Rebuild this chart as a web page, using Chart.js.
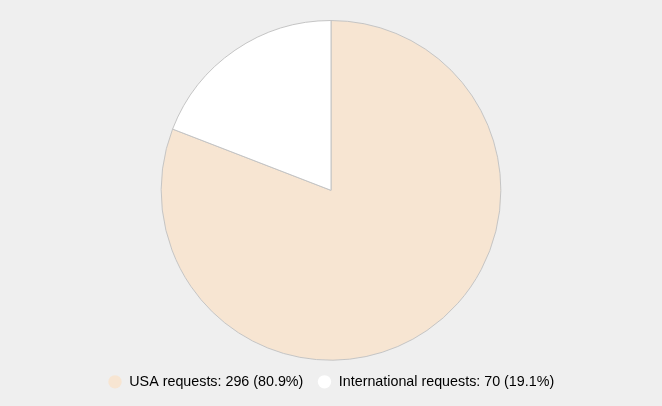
<!DOCTYPE html>
<html>
<head>
<meta charset="utf-8">
<script src="https://cdn.jsdelivr.net/npm/chart.js@4"></script>
<style>
    html, body { margin: 0; padding: 0; background: #efefef; }
    #wrap { width: 662px; height: 406px; }
</style>
</head>
<body>
<div id="wrap"><canvas id="pieChart"></canvas></div>
<script>
// --- Daten ---
const categories = ["USA requests", "International requests"];
const requestCounts = [296, 70];
const sliceColors = ["#f7e5d2", "#ffffff"];

const total = requestCounts.reduce((a, b) => a + b, 0);

function labelText(i) {
    const pct = (requestCounts[i] / total * 100).toFixed(1);
    return `${categories[i]}: ${requestCounts[i]} (${pct}%)`;
}

const ctx = document.getElementById("pieChart").getContext("2d");
const chart = new Chart(ctx, {
    type: "pie",
    data: {
        labels: categories,
        datasets: [{
            data: requestCounts,
            backgroundColor: sliceColors,
            borderColor: "#c4c4c4",
            borderWidth: 1
        }]
    },
    options: {
        responsive: true,
        maintainAspectRatio: false,
        animation: false,
        layout: { padding: { top: 20, bottom: 7 } },
        plugins: {
            tooltip: { enabled: false },
            legend: {
                position: "bottom",
                labels: {
                    usePointStyle: true,
                    pointStyle: "circle",
                    boxWidth: 15,
                    boxHeight: 9.5,
                    padding: 14,
                    color: "#222",
                    font: { family: "Liberation Sans, Arial, sans-serif", size: 14.3 },
                    generateLabels: function(chart) {
                        return categories.map((c, i) => ({
                            text: labelText(i),
                            fillStyle: sliceColors[i],
                            strokeStyle: "rgba(0,0,0,0)",
                            lineWidth: 0,
                            pointStyle: "circle",
                            index: i
                        }));
                    }
                }
            }
        }
    }
});
</script>
</body>
</html>
